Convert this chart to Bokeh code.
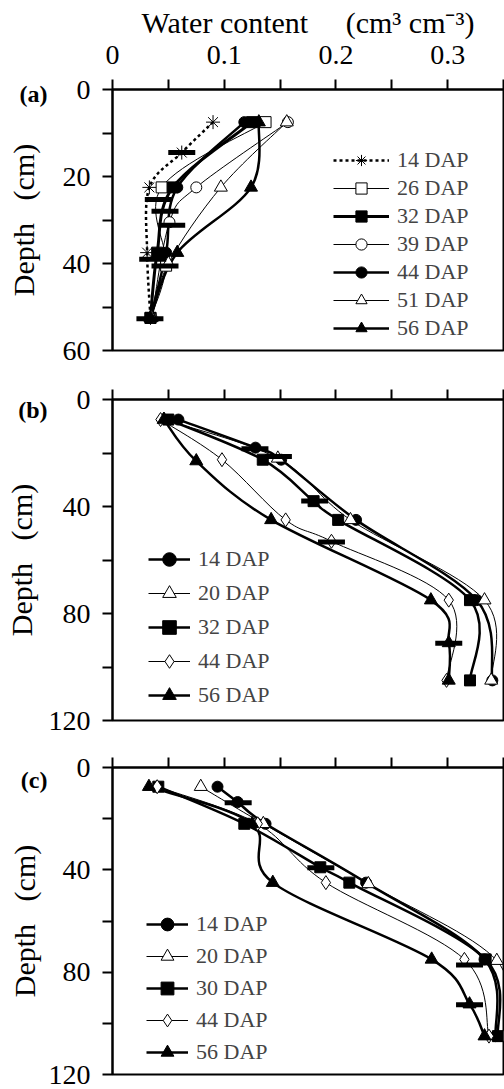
from bokeh.plotting import figure
from bokeh.models import Range1d, FixedTicker, Legend, LegendItem, LinearAxis
from bokeh.layouts import column
from bokeh.embed import file_html
from bokeh.resources import INLINE

# ---------------- data (water content cm3 cm-3, depth cm) ----------------
# Panel (a)
A14_W = [0.090, 0.062, 0.033, 0.031, 0.034]
A14_D = [7.5, 14.5, 22.5, 37.5, 52.5]
A26_W = [0.137, 0.044, 0.048, 0.034]
A26_D = [7.5, 22.5, 40.5, 52.5]
A32_W = [0.125, 0.054, 0.040, 0.034]
A32_D = [7.5, 22.5, 37.5, 52.5]
A39_W = [0.157, 0.075, 0.051, 0.035]
A39_D = [7.5, 22.5, 30.5, 52.5]
A44_W = [0.118, 0.058, 0.048, 0.034]
A44_D = [7.5, 22.5, 37.5, 52.5]
A51_W = [0.156, 0.097, 0.050, 0.035]
A51_D = [7.5, 22.5, 40.0, 52.5]
A56_W = [0.131, 0.124, 0.058, 0.034]
A56_D = [7.5, 22.5, 37.5, 52.5]
A_BAR_W = [0.062, 0.041, 0.047, 0.053, 0.036, 0.047, 0.0335]
A_BAR_D = [14.5, 25.3, 28.0, 31.2, 39.0, 40.6, 52.7]

# Panel (b)
B14_W = [0.059, 0.128, 0.151, 0.218, 0.326, 0.340]
B14_D = [7.5, 18.0, 22.5, 45.0, 75.0, 105.0]
B20_W = [0.046, 0.148, 0.213, 0.333, 0.339]
B20_D = [7.5, 22.0, 45.0, 75.0, 105.0]
B32_W = [0.050, 0.1345, 0.180, 0.202, 0.320, 0.320]
B32_D = [7.5, 22.5, 38.0, 45.0, 75.0, 105.0]
B44_W = [0.043, 0.098, 0.155, 0.196, 0.301, 0.299]
B44_D = [7.5, 22.5, 45.0, 53.0, 75.0, 105.0]
B56_W = [0.046, 0.075, 0.142, 0.285, 0.301, 0.301]
B56_D = [7.5, 23.0, 45.0, 75.0, 91.0, 105.0]
B_BAR_W = [0.1275, 0.1485, 0.181, 0.196, 0.301]
B_BAR_D = [18.4, 21.3, 37.9, 53.3, 91.1]

# Panel (c)
C14_W = [0.094, 0.112, 0.137, 0.227, 0.333, 0.343]
C14_D = [7.5, 13.5, 22.0, 45.0, 75.0, 105.0]
C20_W = [0.079, 0.135, 0.229, 0.344, 0.350]
C20_D = [7.5, 22.0, 45.5, 75.5, 105.5]
C30_W = [0.041, 0.118, 0.186, 0.212, 0.334, 0.345]
C30_D = [7.5, 22.0, 39.0, 45.0, 75.0, 105.0]
C44_W = [0.040, 0.130, 0.191, 0.315, 0.337]
C44_D = [7.5, 22.0, 45.0, 75.0, 105.0]
C56_W = [0.0326, 0.125, 0.1435, 0.2857, 0.3196, 0.333]
C56_D = [7.5, 22.0, 45.0, 75.0, 92.5, 105.0]
C_BAR_W = [0.1125, 0.1865, 0.3196, 0.3196]
C_BAR_D = [13.8, 39.2, 77.2, 92.7]

X_MAJOR = [0, 0.1, 0.2, 0.3]
X_MINOR = [0.05, 0.15, 0.25, 0.35]
PANEL_TAGS = ["(a)", "(b)", "(c)"]

FONT = "'Liberation Serif', 'Times New Roman', serif"

# styles: (marker, filled, curve width, dash)
A_SERIES = [
    ("14 DAP", A14_W, A14_D, "asterisk", False, 2.5, "3 3"),
    ("26 DAP", A26_W, A26_D, "square", False, 1.0, "solid"),
    ("32 DAP", A32_W, A32_D, "square", True, 3.0, "solid"),
    ("39 DAP", A39_W, A39_D, "circle", False, 1.0, "solid"),
    ("44 DAP", A44_W, A44_D, "circle", True, 2.5, "solid"),
    ("51 DAP", A51_W, A51_D, "triangle", False, 1.0, "solid"),
    ("56 DAP", A56_W, A56_D, "triangle", True, 2.5, "solid"),
]
B_SERIES = [
    ("14 DAP", B14_W, B14_D, "circle", True, 2.5, "solid"),
    ("20 DAP", B20_W, B20_D, "triangle", False, 1.0, "solid"),
    ("32 DAP", B32_W, B32_D, "square", True, 2.5, "solid"),
    ("44 DAP", B44_W, B44_D, "diamond", False, 1.0, "solid"),
    ("56 DAP", B56_W, B56_D, "triangle", True, 2.5, "solid"),
]
C_SERIES = [
    ("14 DAP", C14_W, C14_D, "circle", True, 2.5, "solid"),
    ("20 DAP", C20_W, C20_D, "triangle", False, 1.0, "solid"),
    ("30 DAP", C30_W, C30_D, "square", True, 2.5, "solid"),
    ("44 DAP", C44_W, C44_D, "diamond", False, 1.0, "solid"),
    ("56 DAP", C56_W, C56_D, "triangle", True, 2.5, "solid"),
]
MSIZE = {"asterisk": 14, "square": 11, "circle": 11, "triangle": 13, "diamond": 14}


def smooth_segments(xs, ys):
    """Catmull-Rom style bezier control points through the read points."""
    n = len(xs)
    out = {k: [] for k in ("x0", "y0", "x1", "y1", "cx0", "cy0", "cx1", "cy1")}
    for i in range(n - 1):
        a = max(i - 1, 0)
        d = min(i + 2, n - 1)
        out["x0"].append(xs[i]); out["y0"].append(ys[i])
        out["x1"].append(xs[i + 1]); out["y1"].append(ys[i + 1])
        out["cx0"].append(xs[i] + (xs[i + 1] - xs[a]) / 6.0)
        out["cy0"].append(ys[i] + (ys[i + 1] - ys[a]) / 6.0)
        out["cx1"].append(xs[i + 1] - (xs[d] - xs[i]) / 6.0)
        out["cy1"].append(ys[i + 1] - (ys[d] - ys[i]) / 6.0)
    return out


def style_axis(ax):
    ax.axis_line_width = 2
    ax.major_tick_line_width = 2
    ax.minor_tick_line_width = 2
    ax.major_tick_out = 10
    ax.major_tick_in = 0
    ax.minor_tick_out = 10
    ax.minor_tick_in = 0
    ax.major_label_text_font = FONT
    ax.major_label_text_font_size = "28px"
    ax.major_label_text_color = "black"
    ax.axis_label_text_font = FONT
    ax.axis_label_text_font_style = "normal"
    ax.axis_label_text_color = "black"


def make_panel(series, bar_w, bar_d, ymax, ymajor, yminor, height, top, bottom,
               xlabels, tag, tag_tick, tag_standoff, leg_loc, glyph_w, glyph_h):
    p = figure(width=504, height=height, x_range=Range1d(0, 0.35),
               y_range=Range1d(ymax, 0), x_axis_location="above",
               output_backend="svg", toolbar_location=None,
               min_border_left=112, min_border_right=1,
               min_border_top=top, min_border_bottom=bottom)
    p.grid.visible = False
    p.outline_line_color = "black"
    p.outline_line_width = 2
    p.background_fill_color = "white"
    p.border_fill_color = "white"

    xa = p.xaxis[0]
    style_axis(xa)
    if xlabels:
        xa.ticker = FixedTicker(ticks=X_MAJOR, minor_ticks=X_MINOR)
        xa.axis_label = "Water content\u00a0\u00a0\u00a0\u00a0\u00a0(cm\u00b3 cm\u207b\u00b3)"
    else:
        xa.ticker = FixedTicker(ticks=[], minor_ticks=X_MAJOR + X_MINOR)
    xa.major_label_standoff = 16
    xa.axis_label_text_font_size = "30px"
    xa.axis_label_standoff = 4

    ya = p.yaxis[0]
    style_axis(ya)
    ya.ticker = FixedTicker(ticks=ymajor, minor_ticks=yminor)
    ya.major_label_standoff = 12

    # second left axis: carries the panel tag and the depth title
    ta = LinearAxis(ticker=FixedTicker(ticks=[tag_tick], minor_ticks=[]),
                    major_label_overrides={tag_tick: tag},
                    axis_line_color=None, major_tick_line_color=None,
                    minor_tick_line_color=None, major_tick_out=0, major_tick_in=0,
                    minor_tick_out=0, minor_tick_in=0,
                    major_label_standoff=tag_standoff,
                    major_label_text_font=FONT, major_label_text_font_style="bold",
                    major_label_text_font_size="24px", major_label_text_color="black",
                    axis_label="Depth\u00a0\u00a0\u00a0(cm)", axis_label_standoff=-23,
                    axis_label_text_font=FONT, axis_label_text_font_style="normal",
                    axis_label_text_font_size="30px", axis_label_text_color="black")
    p.add_layout(ta, "left")

    items = []
    scatters = []
    for (lab, w, d, mk, filled, lw, dash) in series:
        seg = smooth_segments(w, d)
        br = p.bezier(x0=seg["x0"], y0=seg["y0"], x1=seg["x1"], y1=seg["y1"],
                      cx0=seg["cx0"], cy0=seg["cy0"], cx1=seg["cx1"], cy1=seg["cy1"],
                      line_color="black", line_width=lw, line_dash=dash)
        scatters.append((lab, w, d, mk, filled, br))
    for (lab, w, d, mk, filled, br) in scatters:
        sr = p.scatter(x=w, y=d, marker=mk, size=MSIZE[mk],
                       fill_color="black" if filled else "white",
                       line_color="black", line_width=1)
        items.append(LegendItem(label=lab, renderers=[br, sr]))
    p.scatter(x=bar_w, y=bar_d, marker="dash", size=27, line_color="black", line_width=5)

    leg = Legend(items=items, location=leg_loc, padding=0, margin=0, spacing=0,
                 glyph_width=glyph_w, glyph_height=glyph_h, label_height=glyph_h,
                 label_standoff=8, label_text_font=FONT, label_text_font_size="22px",
                 border_line_alpha=0, background_fill_alpha=0)
    p.add_layout(leg)
    return p


pa = make_panel(A_SERIES, A_BAR_W, A_BAR_D, 60, [0, 20, 40, 60], [10, 30, 50],
                375, 89, 25, True, PANEL_TAGS[0], 1, 12, (221, 8), 56, 28)
pb = make_panel(B_SERIES, B_BAR_W, B_BAR_D, 120, [0, 40, 80, 120], [20, 60, 100],
                370, 24, 25, False, PANEL_TAGS[1], 4, -2, (36, 8), 42, 34)
pc = make_panel(C_SERIES, C_BAR_W, C_BAR_D, 120, [0, 40, 80, 120], [20, 60, 100],
                344, 22, 15, False, PANEL_TAGS[2], 5, -2, (34, 6), 42, 32)

layout = column(pa, pb, pc)
open("out.html", "w").write(file_html(layout, INLINE))
